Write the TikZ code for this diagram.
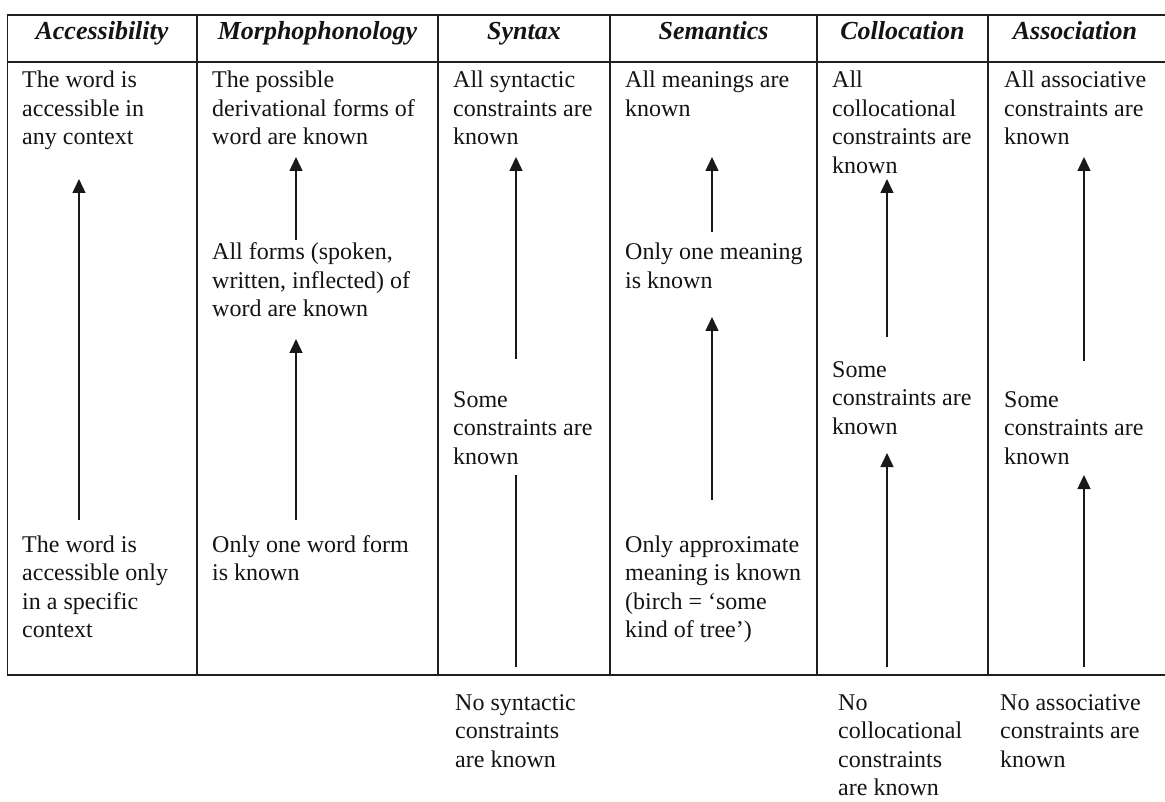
\documentclass[tikz,border=0pt]{standalone}
\usepackage{fontspec}
\setmainfont{Liberation Serif}
\usetikzlibrary{arrows.meta}
\begin{document}
\begin{tikzpicture}[x=1pt,y=-1pt,
  grid/.style={line width=1.5pt, draw=black!88},
  hdr/.style={font=\fontsize{26}{30}\selectfont\bfseries\itshape, anchor=base, inner sep=0pt, text=black!92},
  cell/.style={font=\fontsize{24}{28.5}\selectfont, anchor=base west, inner sep=0pt, align=left, text=black!92},
  uparrow/.style={line width=1.4pt, draw=black!90, -{Triangle[width=13pt,length=14pt]}},
  plainline/.style={line width=1.4pt, draw=black!90}]
\useasboundingbox[fill=white] (0,0) rectangle (1165,802);

% table grid
\draw[grid] (1165,15) -- (7.5,15) -- (7.5,675) -- (1165,675);
\draw[grid] (7.5,62) -- (1165,62);
\foreach \cx in {197,438,610,817,988} \draw[grid] (\cx,15) -- (\cx,675);

% headers
\node[hdr] (h1) at (102,40) {Accessibility};
\node[hdr] (h2) at (317.5,40) {Morphophonology};
\node[hdr] (h3) at (524,40) {Syntax};
\node[hdr] (h4) at (713.5,40) {Semantics};
\node[hdr] (h5) at (902.5,40) {Collocation};
\node[hdr] (h6) at (1075,40) {Association};

% (node positions are the baseline of each text's last line)
% Accessibility
\node[cell] (a1) at (22,145) {The word is\\accessible in\\any context};
\node[cell] (a2) at (22,637.5) {The word is\\accessible only\\in a specific\\context};
\coordinate (a1t) at (79,179);
\coordinate (a2b) at (79,520);
\draw[uparrow] (a2b) -- (a1t);

% Morphophonology
\node[cell] (m1) at (212,145) {The possible\\derivational forms of\\word are known};
\node[cell] (m2) at (212,317) {All forms (spoken,\\written, inflected) of\\word are known};
\node[cell] (m3) at (212,580.5) {Only one word form\\is known};
\coordinate (m1t) at (296,157);
\coordinate (m2b) at (296,240);
\coordinate (m2t) at (296,339);
\coordinate (m3b) at (296,520);
\draw[uparrow] (m2b) -- (m1t);
\draw[uparrow] (m3b) -- (m2t);

% Syntax
\node[cell] (s1) at (453,145) {All syntactic\\constraints are\\known};
\node[cell] (s2) at (453,464) {Some\\constraints are\\known};
\node[cell] (s3) at (455,767) {No syntactic\\constraints\\are known};
\coordinate (s1t) at (516,157);
\coordinate (s2b) at (516,359);
\coordinate (s2u) at (516,475);
\coordinate (s3t) at (516,667);
\draw[uparrow] (s2b) -- (s1t);
\draw[plainline] (s3t) -- (s2u);

% Semantics
\node[cell] (e1) at (625,116.5) {All meanings are\\known};
\node[cell] (e2) at (625,288.5) {Only one meaning\\is known};
\node[cell] (e3) at (625,637.5) {Only approximate\\meaning is known\\(birch = ‘some\\kind of tree’)};
\coordinate (e1t) at (712,157);
\coordinate (e2b) at (712,232);
\coordinate (e2t) at (712,317);
\coordinate (e3b) at (712,500);
\draw[uparrow] (e2b) -- (e1t);
\draw[uparrow] (e3b) -- (e2t);

% Collocation
\node[cell] (c1) at (832,173.5) {All\\collocational\\constraints are\\known};
\node[cell] (c2) at (832,434) {Some\\constraints are\\known};
\node[cell] (c3) at (838,795.5) {No\\collocational\\constraints\\are known};
\coordinate (c1t) at (887,179);
\coordinate (c2b) at (887,337);
\coordinate (c2t) at (887,453);
\coordinate (c3t) at (887,667);
\draw[uparrow] (c2b) -- (c1t);
\draw[uparrow] (c3t) -- (c2t);

% Association
\node[cell] (o1) at (1004,145) {All associative\\constraints are\\known};
\node[cell] (o2) at (1004,464) {Some\\constraints are\\known};
\node[cell] (o3) at (1000,767) {No associative\\constraints are\\known};
\coordinate (o1t) at (1084,157);
\coordinate (o2b) at (1084,361);
\coordinate (o2t) at (1084,475);
\coordinate (o3t) at (1084,667);
\draw[uparrow] (o2b) -- (o1t);
\draw[uparrow] (o3t) -- (o2t);
\end{tikzpicture}
\end{document}
